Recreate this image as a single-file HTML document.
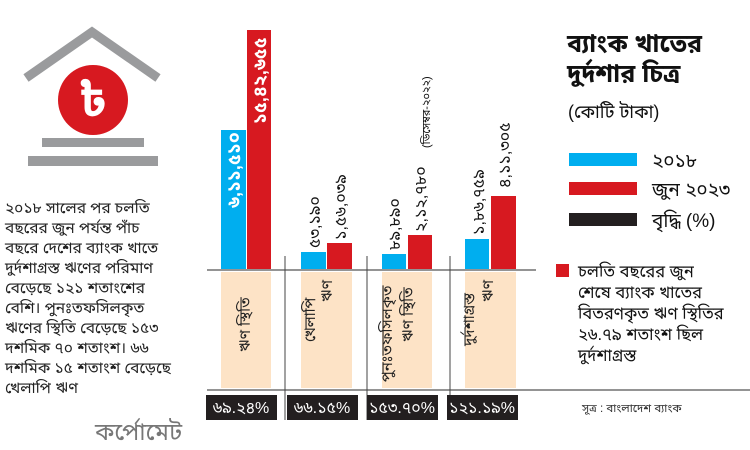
<!DOCTYPE html>
<html><head><meta charset="utf-8"><style>
html,body{margin:0;padding:0;background:#fff;}
svg{display:block;font-family:"Liberation Sans","Noto Sans Bengali","Lohit Bengali",sans-serif;}
</style></head><body>
<svg width="750" height="450" viewBox="0 0 750 450" xmlns="http://www.w3.org/2000/svg">
<polyline points="26,78 92,32 158,78" fill="none" stroke="#9a9b9d" stroke-width="9"/>
<circle cx="93" cy="100" r="35" fill="#d71920"/>
<text x="93" y="116" font-size="46" font-weight="bold" fill="#fff" text-anchor="middle">৳</text>
<rect x="42" y="138" width="102" height="9" fill="#9a9b9d"/>
<rect x="28" y="156" width="130" height="10" fill="#9a9b9d"/>
<g font-size="15.5" fill="#222">
<text x="5" y="213">২০১৮ সালের পর চলতি</text>
<text x="5" y="233">বছরের জুন পর্যন্ত পাঁচ</text>
<text x="5" y="253">বছরে দেশের ব্যাংক খাতে</text>
<text x="5" y="273">দুর্দশাগ্রস্ত ঋণের পরিমাণ</text>
<text x="5" y="293">বেড়েছে ১২১ শতাংশের</text>
<text x="5" y="313">বেশি। পুনঃতফসিলকৃত</text>
<text x="5" y="333">ঋণের স্থিতি বেড়েছে ১৫৩</text>
<text x="5" y="353">দশমিক ৭০ শতাংশ। ৬৬</text>
<text x="5" y="373">দশমিক ১৫ শতাংশ বেড়েছে</text>
<text x="5" y="393">খেলাপি ঋণ</text>
</g>
<text x="95" y="440" font-size="24" fill="#777">কর্পোমেট</text>
<g fill="#fde3c6">
<rect x="221" y="272" width="50" height="116"/>
<rect x="301" y="272" width="51" height="116"/>
<rect x="382" y="272" width="50" height="116"/>
<rect x="465" y="272" width="51" height="116"/>
</g>
<rect x="221" y="130" width="25" height="139" fill="#00aeef"/>
<rect x="247" y="30" width="24" height="239" fill="#d71920"/>
<rect x="301" y="252" width="25" height="17" fill="#00aeef"/>
<rect x="327" y="243" width="25" height="26" fill="#d71920"/>
<rect x="382" y="254" width="24" height="15" fill="#00aeef"/>
<rect x="408" y="235" width="24" height="34" fill="#d71920"/>
<rect x="465" y="239" width="24" height="30" fill="#00aeef"/>
<rect x="491" y="196" width="25" height="73" fill="#d71920"/>
<line x1="207" y1="270" x2="536" y2="270" stroke="#555" stroke-width="1.2"/>
<line x1="207" y1="390" x2="750" y2="390" stroke="#555" stroke-width="1.2"/>
<g stroke="#444" stroke-width="1">
<line x1="285" y1="256" x2="285" y2="420"/>
<line x1="367" y1="256" x2="367" y2="420"/>
<line x1="450" y1="256" x2="450" y2="420"/>
</g>
<g font-size="18" font-weight="bold">
<text transform="translate(240,208) rotate(-90)" fill="#fff">৬,১১,৫১০</text>
<text transform="translate(266,124) rotate(-90)" fill="#fff">১৫,৪২,৬৫৫</text>
</g>
<g font-size="16" fill="#111">
<text transform="translate(320,248) rotate(-90)">৫৩,১৯০</text>
<text transform="translate(346,240) rotate(-90)">১,৫৬,০৩৯</text>
<text transform="translate(400,250) rotate(-90)">৮৯,৮৯০</text>
<text transform="translate(426,232) rotate(-90)">২,১২,৭৮০</text>
<text transform="translate(484,235) rotate(-90)">১,৮৬,৭৫৯</text>
<text transform="translate(510,188) rotate(-90)">৪,১১,৩০৫</text>
</g>
<text transform="translate(430,148) rotate(-90)" font-size="11" fill="#111">(ডিসেম্বর-২০২২)</text>
<g font-size="15" fill="#222">
<text transform="translate(250,352) rotate(-90)">ঋণ স্থিতি</text>
<text transform="translate(315,342) rotate(-90)">খেলাপি</text>
<text transform="translate(332,302) rotate(-90)">ঋণ</text>
<text transform="translate(392,382) rotate(-90)">পুনঃতফসিলকৃত</text>
<text transform="translate(413,342) rotate(-90)">ঋণ স্থিতি</text>
<text transform="translate(474,346) rotate(-90)">দুর্দশাগ্রস্ত</text>
<text transform="translate(493,302) rotate(-90)">ঋণ</text>
</g>
<g fill="#231f20">
<rect x="206" y="395" width="71" height="25"/>
<rect x="287" y="395" width="71" height="25"/>
<rect x="367" y="395" width="71" height="25"/>
<rect x="447" y="395" width="71" height="25"/>
</g>
<g font-size="16" fill="#fff" text-anchor="middle">
<text x="241" y="413">৬৯.২৪%</text>
<text x="322" y="413">৬৬.১৫%</text>
<text x="402" y="413">১৫৩.৭০%</text>
<text x="482" y="413">১২১.১৯%</text>
</g>
<g font-size="25" font-weight="bold" fill="#111">
<text x="567" y="52">ব্যাংক খাতের</text>
<text x="567" y="82">দুর্দশার চিত্র</text>
</g>
<text x="568" y="118" font-size="18" fill="#111">(কোটি টাকা)</text>
<rect x="569" y="153" width="68" height="13" fill="#00aeef"/>
<rect x="569" y="182" width="68" height="13" fill="#d71920"/>
<rect x="569" y="213" width="68" height="13" fill="#231f20"/>
<g font-size="19" fill="#111">
<text x="652" y="167">২০১৮</text>
<text x="652" y="196">জুন ২০২৩</text>
<text x="652" y="227">বৃদ্ধি (%)</text>
</g>
<rect x="556" y="264" width="13" height="13" fill="#d71920"/>
<g font-size="16.5" fill="#111">
<text x="578" y="277">চলতি বছরের জুন</text>
<text x="578" y="298">শেষে ব্যাংক খাতের</text>
<text x="578" y="319">বিতরণকৃত ঋণ স্থিতির</text>
<text x="578" y="340">২৬.৭৯ শতাংশ ছিল</text>
<text x="578" y="361">দুর্দশাগ্রস্ত</text>
</g>
<text x="582" y="412" font-size="11.5" fill="#333">সূত্র : বাংলাদেশ ব্যাংক</text>
</svg>
</body></html>
